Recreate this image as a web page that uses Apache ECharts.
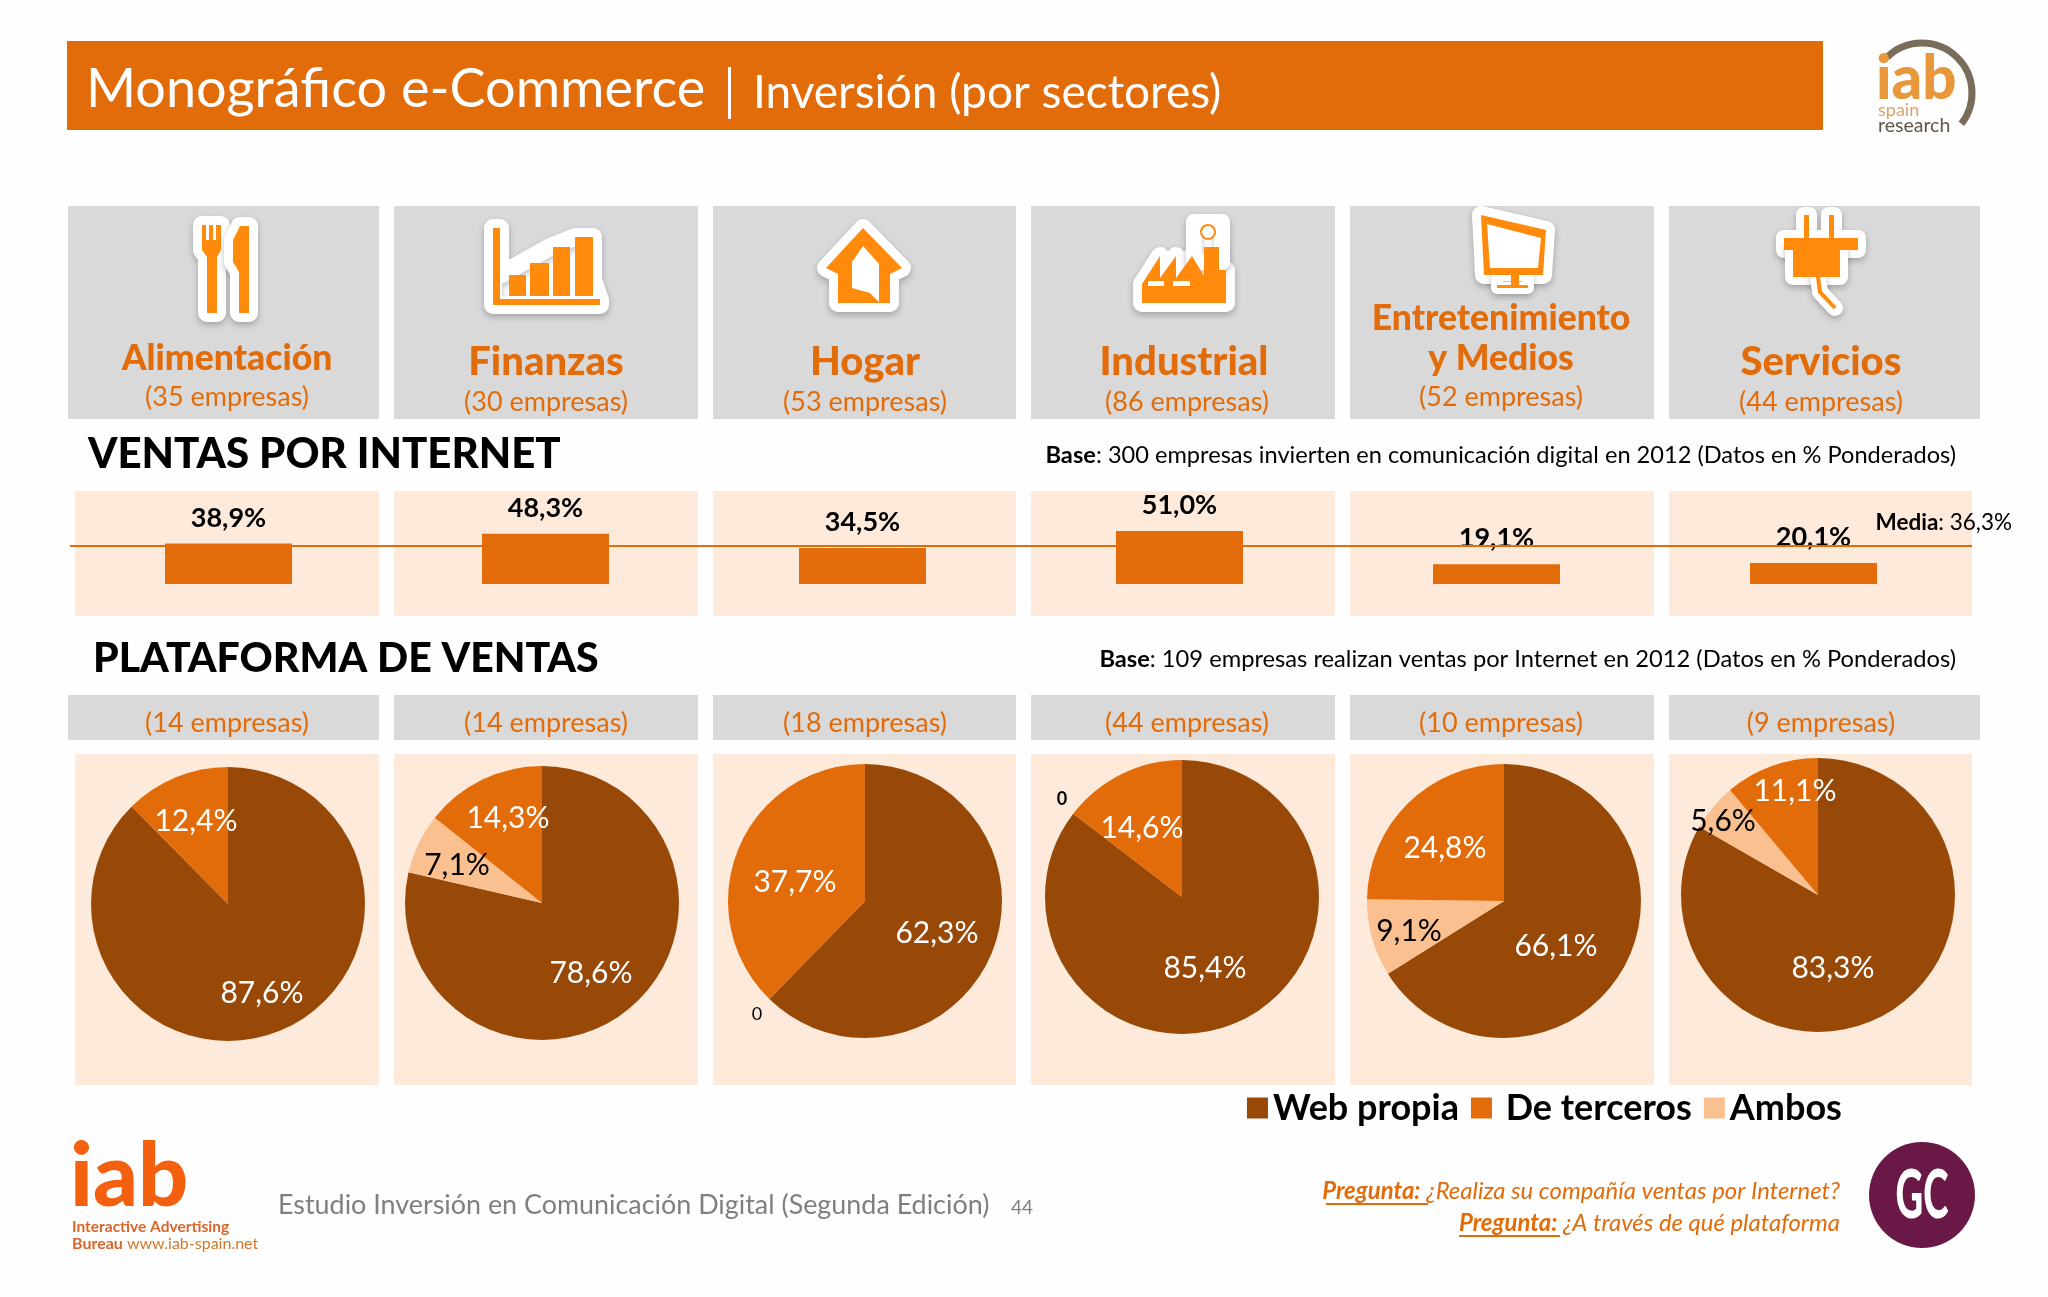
<!DOCTYPE html>
<html>
<head>
<meta charset="utf-8">
<style>
    html, body { margin: 0; padding: 0; background: #fff; }
    #chart { width: 2048px; height: 1297px; }
</style>
<script src="https://cdn.jsdelivr.net/npm/echarts@6/dist/echarts.min.js"></script>
</head>
<body>
<div id="chart"></div>
<script>
const sectors = ['Alimentación', 'Finanzas', 'Hogar', 'Industrial', 'Entretenimiento y Medios', 'Servicios'];
const companiesTop = [35, 30, 53, 86, 52, 44];
const companiesPie = [14, 14, 18, 44, 10, 9];
const onlineSales = [38.9, 48.3, 34.5, 51.0, 19.1, 20.1];
const salesAverage = 36.3;
const webPropia = [87.6, 78.6, 62.3, 85.4, 66.1, 83.3];
const ambos = [null, 7.1, 0, 0, 9.1, 5.6];
const deTerceros = [12.4, 14.3, 37.7, 14.6, 24.8, 11.1];

const FONT = 'Lato';
const ORANGE = '#e36c0a';
const BROWN = '#984807';
const LIGHT = '#fac090';
const GREY = '#d9d9d9';
const PANEL = '#fdeadb';
const ICON = '#ff8a0c';

// layout
const boxes = [[68, 311], [394, 304], [713, 303], [1031, 304], [1350, 304], [1669, 311]];
const panels = [[75, 304], [394, 304], [713, 303], [1031, 304], [1350, 304], [1669, 303]];
const pieCenters = [[228, 904], [542, 903], [865, 901], [1182, 897], [1504, 901], [1818, 895]];
// label centres: [web, ambos, terceros]
const pieLabels = [
    [[262, 993], null, [196, 821]],
    [[591, 973], [457, 865], [508, 818]],
    [[937, 933], [757, 1014], [795, 882]],
    [[1205, 968], [1062, 799], [1142, 828]],
    [[1556, 946], [1409, 931], [1445, 848]],
    [[1833, 968], [1723, 821], [1795, 791]]
];

function text(x, y, str, font, fill, align, extra) {
    return {
        type: 'text',
        x: x,
        y: y,
        z: 20,
        silent: true,
        style: Object.assign({
            text: str,
            font: font,
            fill: fill,
            align: align || 'center',
            verticalAlign: 'middle'
        }, extra || {})
    };
}

function rect(x, y, w, h, fill, z) {
    return {
        type: 'rect',
        z: z === undefined ? 0 : z,
        silent: true,
        shape: { x: x, y: y, width: w, height: h },
        style: { fill: fill }
    };
}

function poly(points, fill, z) {
    return { type: 'polygon', z: z, silent: true, shape: { points: points }, style: { fill: fill } };
}

// white sticker behind the icon, then the orange shapes on top
function sticker(shapes) {
    return shapes.map(s => ({
        type: s.type,
        z: 3,
        silent: true,
        shape: s.shape,
        style: {
            fill: '#fff',
            stroke: '#fff',
            lineWidth: s.halo || 18,
            lineJoin: 'round',
            lineCap: 'round',
            shadowBlur: 6,
            shadowColor: 'rgba(0,0,0,0.25)',
            shadowOffsetY: 3
        }
    }));
}

function iconForkKnife() {
    let fork = [[202, 225], [206, 225], [206, 240], [209, 240], [209, 225], [213, 225], [213, 240], [216, 240], [216, 225], [221, 225], [221, 250], [217, 257], [217, 313], [207, 313], [207, 257], [202, 250]];
    let knife = [[249, 226], [249, 313], [239, 313], [239, 272], [233, 262], [233, 240], [240, 226]];
    return sticker([
        { type: 'polygon', shape: { points: fork } },
        { type: 'polygon', shape: { points: knife } }
    ]).concat([poly(fork, ICON, 4), poly(knife, ICON, 4)]);
}

function iconBars() {
    let list = sticker([
        { type: 'polygon', shape: { points: [[493, 228], [500, 228], [500, 275], [550, 247], [575, 237], [593, 237], [593, 280], [600, 300], [600, 305], [493, 305]] } }
    ]);
    list.push(rect(493, 228, 7, 77, ICON, 4));
    list.push(rect(493, 299, 107, 6, ICON, 4));
    list.push(rect(509, 275, 17, 21, ICON, 4));
    list.push(rect(530, 263, 19, 33, ICON, 4));
    list.push(rect(553, 247, 17, 49, ICON, 4));
    list.push(rect(575, 237, 18, 59, ICON, 4));
    return list;
}

function iconHouse() {
    let outer = [[863, 228], [902, 268], [890, 274], [890, 303], [838, 303], [838, 274], [826, 268]];
    let inner = [[852, 262], [863, 246], [879, 264], [879, 302], [870, 293], [852, 288]];
    return sticker([{ type: 'polygon', shape: { points: outer } }]).concat([
        poly(outer, ICON, 4),
        poly(inner, '#fff', 5)
    ]);
}

function iconFactory() {
    let body = [[1142, 303], [1142, 284], [1160, 256], [1160, 278], [1176, 256], [1176, 278], [1192, 256], [1204, 276], [1204, 247], [1219, 247], [1219, 270], [1226, 270], [1226, 303]];
    return sticker([
        { type: 'polygon', shape: { points: body } },
        { type: 'polygon', shape: { points: [[1194, 222], [1222, 222], [1222, 262], [1194, 262]] }, halo: 16 }
    ]).concat([
        poly(body, ICON, 4),
        rect(1148, 281, 16, 5, '#fff', 5),
        rect(1173, 281, 17, 5, '#fff', 5),
        {
            type: 'circle',
            z: 4,
            silent: true,
            shape: { cx: 1208, cy: 232, r: 7 },
            style: { fill: '#fff', stroke: ICON, lineWidth: 2 }
        }
    ]);
}

function iconTv() {
    let outer = [[1481, 215], [1546, 230], [1543, 275], [1484, 275]];
    let inner = [[1487, 224], [1541, 238], [1538, 268], [1490, 268]];
    return sticker([
        { type: 'polygon', shape: { points: outer } },
        { type: 'polygon', shape: { points: [[1497, 275], [1528, 275], [1528, 288], [1497, 288]] }, halo: 12 }
    ]).concat([
        poly(outer, ICON, 4),
        poly(inner, '#fff', 5),
        rect(1511, 275, 8, 11, ICON, 4),
        rect(1497, 285, 31, 3, ICON, 4)
    ]);
}

function iconPlug() {
    let body = [[1793, 248], [1840, 248], [1840, 277], [1793, 277]];
    let cable = [[1818, 277], [1820, 292], [1835, 308]];
    let list = sticker([
        { type: 'rect', shape: { x: 1804, y: 215, width: 5, height: 30 }, halo: 16 },
        { type: 'rect', shape: { x: 1829, y: 215, width: 5, height: 30 }, halo: 16 },
        { type: 'rect', shape: { x: 1784, y: 238, width: 74, height: 12 }, halo: 16 },
        { type: 'polygon', shape: { points: body }, halo: 16 },
        { type: 'polyline', shape: { points: cable }, halo: 16 }
    ]);
    list.push(rect(1804, 215, 5, 30, ICON, 4));
    list.push(rect(1829, 215, 5, 30, ICON, 4));
    list.push(rect(1784, 238, 74, 12, ICON, 4));
    list.push(poly(body, ICON, 4));
    list.push({
        type: 'polyline',
        z: 4,
        silent: true,
        shape: { points: cable },
        style: { stroke: ICON, lineWidth: 4, fill: null }
    });
    return list;
}

function buildGraphics() {
    let items = [];

    // header
    items.push(rect(67, 41, 1756, 89, ORANGE));
    items.push(text(86, 90, 'Monográfico e-Commerce', `54px ${FONT}`, '#fff', 'left'));
    items.push(rect(728, 67, 3, 52, '#fff', 5));
    items.push(text(753, 93, 'Inversión (por sectores)', `46px ${FONT}`, '#fff', 'left'));

    // grey sector boxes and pale panels
    boxes.forEach(b => {
        items.push(rect(b[0], 206, b[1], 213, GREY));
        items.push(rect(b[0], 695, b[1], 45, GREY));
    });
    panels.forEach(p => {
        items.push(rect(p[0], 491, p[1], 125, PANEL));
        items.push(rect(p[0], 754, p[1], 331, PANEL));
    });

    // icons
    items = items.concat(iconForkKnife(), iconBars(), iconHouse(), iconFactory(), iconTv(), iconPlug());

    // sector names
    const nameColor = '#e36c0a';
    const large = `900 40px ${FONT}`;
    const small = `900 35.5px ${FONT}`;
    const sub = `27px ${FONT}`;
    items.push(text(227, 359, sectors[0], small, nameColor));
    items.push(text(546, 362, sectors[1], large, nameColor));
    items.push(text(865, 362, sectors[2], large, nameColor));
    items.push(text(1184, 362, sectors[3], large, nameColor));
    items.push(text(1501, 319, 'Entretenimiento', small, nameColor));
    items.push(text(1501, 359, 'y Medios', small, nameColor));
    items.push(text(1821, 362, sectors[5], large, nameColor));

    const topY = [397, 402, 402, 402, 397, 402];
    const subX = [227, 546, 865, 1187, 1501, 1821];
    companiesTop.forEach((n, i) => {
        items.push(text(subX[i], topY[i], `(${n} empresas)`, sub, nameColor));
    });
    companiesPie.forEach((n, i) => {
        items.push(text(subX[i], 723, `(${n} empresas)`, sub, nameColor));
    });

    // section headings
    items.push(text(88, 454, 'VENTAS POR INTERNET', `900 42px ${FONT}`, '#000', 'left'));
    items.push(text(93, 659, 'PLATAFORMA DE VENTAS', `900 41px ${FONT}`, '#000', 'left'));
    const baseRich = { rich: { b: { font: `bold 23.7px ${FONT}`, fill: '#000' } } };
    items.push(text(1956, 455, '{b|Base}: 300 empresas invierten en comunicación digital en 2012 (Datos en % Ponderados)', `23.6px ${FONT}`, '#000', 'right', baseRich));
    items.push(text(1956, 659, '{b|Base}: 109 empresas realizan ventas por Internet en 2012 (Datos en % Ponderados)', `23.7px ${FONT}`, '#000', 'right', baseRich));
    items.push(text(2012, 523, '{b|Media}: 36,3%', `22.5px ${FONT}`, '#000', 'right', { rich: { b: { font: `bold 22.5px ${FONT}`, fill: '#000' } } }));

    // logo top right
    items.push({
        type: 'arc',
        z: 3,
        silent: true,
        shape: { cx: 1922, cy: 93, r: 50, startAngle: -135 * Math.PI / 180, endAngle: 38 * Math.PI / 180 },
        style: { stroke: '#7a6c5a', lineWidth: 7, fill: null }
    });
    items.push(text(1876, 80, 'iab', `900 60px ${FONT}`, '#e8983a', 'left'));
    items.push(text(1878, 110, 'spain', `18px ${FONT}`, '#d9a46a', 'left'));
    items.push(text(1878, 126, 'research', `19.5px ${FONT}`, '#5f5548', 'left'));

    // footer
    items.push(text(70, 1178, 'iab', `900 88px ${FONT}`, '#f26010', 'left'));
    items.push(text(72, 1227, 'Interactive Advertising', `bold 15.5px ${FONT}`, '#d9652a', 'left'));
    items.push(text(72, 1244, '{b|Bureau} www.iab-spain.net', `16px ${FONT}`, '#d9752a', 'left', {
        rich: { b: { font: `bold 16px ${FONT}`, fill: '#d9652a' } }
    }));
    items.push(text(278, 1205, 'Estudio Inversión en Comunicación Digital (Segunda Edición)', `26.9px ${FONT}`, '#7f7f7f', 'left'));
    items.push(text(1022, 1208, '44', `19px ${FONT}`, '#7f7f7f'));

    const ask = { rich: { b: { font: `italic bold 23.9px ${FONT}`, fill: ORANGE } } };
    items.push(text(1840, 1191, '{b|Pregunta:} ¿Realiza su compañía ventas por Internet?', `italic 23.9px ${FONT}`, ORANGE, 'right', ask));
    items.push(text(1840, 1223, '{b|Pregunta:} ¿A través de qué plataforma', `italic 23.9px ${FONT}`, ORANGE, 'right', ask));
    items.push(rect(1326, 1203, 102, 2, ORANGE, 5));
    items.push(rect(1459, 1235, 101, 2, ORANGE, 5));

    items.push({
        type: 'circle',
        z: 3,
        silent: true,
        shape: { cx: 1922, cy: 1195, r: 53 },
        style: { fill: '#6a1845' }
    });
    let gc = text(1922, 1197, 'GC', `900 66px ${FONT}`, '#fff');
    gc.scaleX = 0.58;
    items.push(gc);

    return items;
}

function pct(value) {
    return value === 0 ? '0' : value.toFixed(1).replace('.', ',');
}

function pieSeries(i) {
    let slices = [
        { name: 'Web propia', value: webPropia[i], color: BROWN, labelColor: '#fff' },
        { name: 'Ambos', value: ambos[i], color: LIGHT, labelColor: '#000' },
        { name: 'De terceros', value: deTerceros[i], color: ORANGE, labelColor: '#fff' }
    ];
    return {
        type: 'pie',
        z: 3,
        silent: true,
        center: pieCenters[i],
        radius: 137,
        startAngle: 90,
        animation: false,
        data: slices.map(s => ({
            name: s.name,
            value: s.value,
            itemStyle: { color: s.color },
            label: {
                show: s.value !== null,
                color: s.labelColor,
                fontSize: s.value === 0 ? 18 : 30,
                fontWeight: i === 3 && s.value === 0 ? 'bold' : 'normal'
            }
        })),
        label: {
            position: 'inside',
            fontFamily: FONT,
            formatter: p => (p.value === null ? '' : pct(p.value) + (p.value === 0 ? '' : '%'))
        },
        labelLine: { show: false },
        labelLayout: function(params) {
            let at = pieLabels[i][params.dataIndex];
            if (!at) {
                return {};
            }
            return { x: at[0], y: at[1], align: 'center', verticalAlign: 'middle' };
        }
    };
}

let chart = echarts.init(document.getElementById('chart'));
chart.setOption({
    backgroundColor: '#fefefe',
    animation: false,
    graphic: { elements: buildGraphics() },
    legend: {
        left: 1242,
        top: 1085,
        icon: 'rect',
        itemWidth: 21,
        itemHeight: 21,
        itemGap: 12,
        selectedMode: false,
        data: ['Web propia', 'De terceros', 'Ambos'],
        formatter: name => (name === 'De terceros' ? ' ' + name : name),
        textStyle: { fontFamily: FONT, fontSize: 36, fontWeight: 'bold', color: '#000' }
    },
    grid: { left: 70, width: 1902, top: 480, height: 104, containLabel: false },
    xAxis: { type: 'category', data: sectors, show: false },
    yAxis: { type: 'value', min: 0, max: 100, show: false },
    series: [{
        type: 'bar',
        z: 3,
        silent: true,
        barWidth: 127,
        data: onlineSales,
        itemStyle: { color: ORANGE },
        label: {
            show: true,
            position: 'top',
            distance: 12,
            fontFamily: FONT,
            fontWeight: 'bold',
            fontSize: 27,
            color: '#000',
            formatter: p => pct(p.value) + '%'
        },
        markLine: {
            silent: true,
            symbol: 'none',
            label: { show: false },
            lineStyle: { color: ORANGE, type: 'solid', width: 2 },
            data: [{ yAxis: salesAverage }]
        }
    }].concat(sectors.map((s, i) => pieSeries(i)))
});
</script>
</body>
</html>
